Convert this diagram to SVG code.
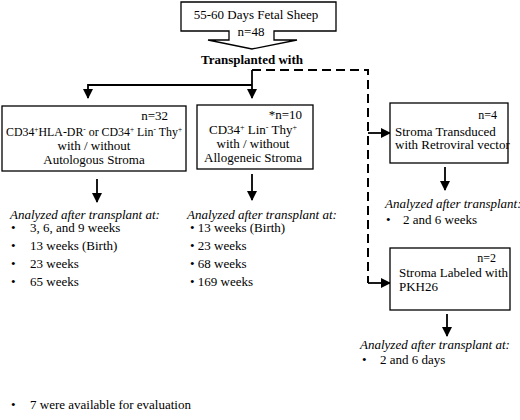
<svg xmlns="http://www.w3.org/2000/svg" width="520" height="420" viewBox="0 0 520 420" font-family="'Liberation Serif', 'Times New Roman', serif">
<defs>
<style>
text{font-family:'Liberation Serif','Times New Roman',serif;font-size:13px;fill:#000}
.b{font-weight:bold}
.i{font-style:italic}
.m{text-anchor:middle}
.e{text-anchor:end}
.s{font-size:12px}
.sup{font-size:8px;baseline-shift:4.5px}
.box{fill:#fff;stroke:#000;stroke-width:1.3}
.ln{fill:none;stroke:#000;stroke-width:1.8}
.dash{fill:none;stroke:#000;stroke-width:2;stroke-dasharray:9 5}
</style>
<marker id="ah" viewBox="0 0 10 10" refX="9" refY="5" markerWidth="10" markerHeight="10" markerUnits="userSpaceOnUse" orient="auto"><path d="M0,0 L10,5 L0,10 Z" fill="#000"/></marker>
</defs>
<rect width="520" height="420" fill="#fff"/>
<g id="top">
<path class="box" d="M181,2 H336 V31 H274 V40 H297 L252,49 L208,40 H229 V31 H181 Z"/>
<text class="m" x="256" y="19">55-60 Days Fetal Sheep</text>
<text class="m" x="251" y="36">n=48</text>
</g>
<text id="label" class="b m" x="252" y="64">Transplanted with</text>
<g id="connectors">
<path class="ln" d="M252,70 V98" marker-end="url(#ah)"/>
<path class="ln" d="M252,85 H88 V98" marker-end="url(#ah)"/>
<path class="dash" d="M252,70 H368 V283"/>
<path class="ln" d="M368,133 H390" marker-end="url(#ah)"/>
<path class="ln" d="M368,283 H390" marker-end="url(#ah)"/>
<path class="ln" d="M97,179 V202" marker-end="url(#ah)"/>
<path class="ln" d="M252,174 V200" marker-end="url(#ah)"/>
<path class="ln" d="M445,167 V190" marker-end="url(#ah)"/>
<path class="ln" d="M447,314 V336" marker-end="url(#ah)"/>
</g>
<g id="box1">
<rect class="box" x="2" y="106" width="184" height="65"/>
<text class="e" x="168" y="120">n=32</text>
<text class="m" x="94" y="136" font-size="12.5" textLength="176" lengthAdjust="spacingAndGlyphs">CD34<tspan class="sup">+</tspan>HLA-DR<tspan class="sup">-</tspan> or CD34<tspan class="sup">+</tspan> Lin<tspan class="sup">-</tspan> Thy<tspan class="sup">+</tspan></text>
<text class="m" x="94" y="150">with  /  without</text>
<text class="m" x="94" y="164">Autologous Stroma</text>
</g>
<g id="box2">
<rect class="box" x="197" y="105" width="116" height="64"/>
<text class="e" x="302" y="119">*n=10</text>
<text class="m" x="253" y="134">CD34<tspan class="sup">+</tspan> Lin<tspan class="sup">-</tspan> Thy<tspan class="sup">+</tspan></text>
<text class="m" x="253" y="148">with  /  without</text>
<text class="m" x="253" y="162">Allogeneic Stroma</text>
</g>
<g id="box3">
<rect class="box" x="390" y="103" width="118" height="60"/>
<text class="e s" x="497" y="119">n=4</text>
<text x="395" y="136" font-size="10.5">Stroma Transduced</text>
<text x="395" y="149" font-size="10.5">with Retroviral vector</text>
</g>
<g id="box4">
<rect class="box" x="390" y="248" width="120" height="62"/>
<text class="e s" x="496" y="262">n=2</text>
<text x="399" y="277" font-size="11.5">Stroma Labeled with</text>
<text x="399" y="291" font-size="11.5">PKH26</text>
</g>
<g id="list1">
<text class="i" x="10" y="219">Analyzed after transplant at:</text>
<text x="11" y="232">•</text><text x="30" y="232">3, 6, and 9 weeks</text>
<text x="11" y="250">•</text><text x="30" y="250">13 weeks (Birth)</text>
<text x="11" y="268">•</text><text x="30" y="268">23 weeks</text>
<text x="11" y="286">•</text><text x="30" y="286">65 weeks</text>
</g>
<g id="list2">
<text class="i" x="187" y="219">Analyzed after transplant at:</text>
<text x="190" y="232">• 13 weeks (Birth)</text>
<text x="190" y="250">• 23 weeks</text>
<text x="190" y="268">• 68 weeks</text>
<text x="190" y="286">• 169 weeks</text>
</g>
<g id="list3">
<text class="i" x="385" y="208">Analyzed after transplant:</text>
<text x="386" y="224">•</text><text x="403" y="224">2 and 6 weeks</text>
</g>
<g id="list4">
<text class="i" x="360" y="349">Analyzed after transplant at:</text>
<text x="362" y="364">•</text><text x="380" y="364">2  and 6 days</text>
</g>
<g id="note">
<text x="11" y="409">•</text><text x="30" y="409">7 were available for evaluation</text>
</g>
</svg>
